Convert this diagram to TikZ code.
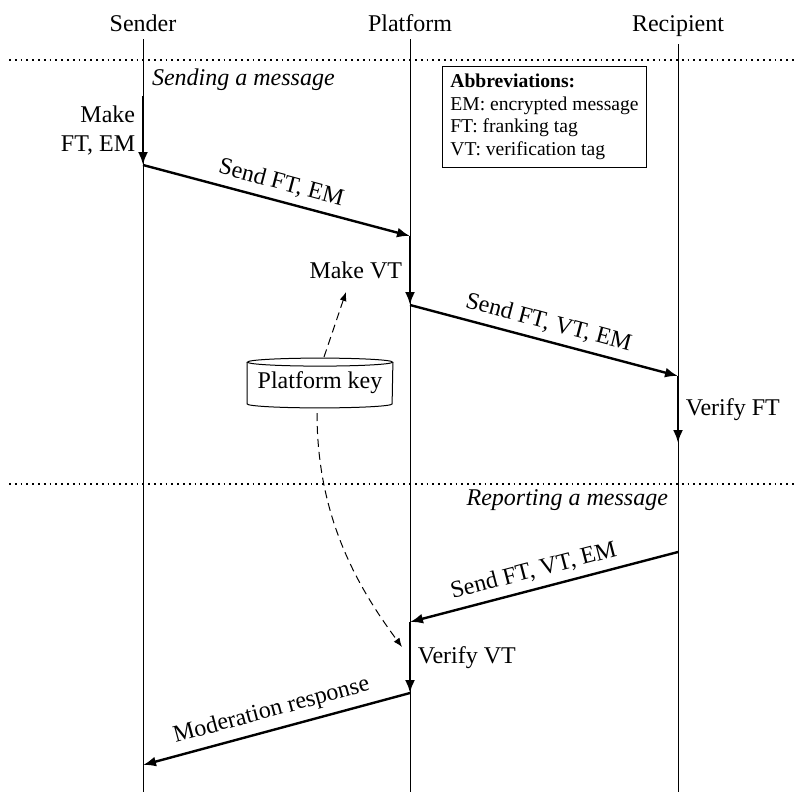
\documentclass[tikz,border=0pt]{standalone}
\usepackage{fontspec}
\setmainfont{Liberation Serif}
\usetikzlibrary{arrows.meta}
\begin{document}
\begin{tikzpicture}[x=0.5pt,y=-0.5pt,
  font=\fontsize{12}{14.5}\selectfont,
  actor/.style={anchor=base},
  lifeline/.style={line width=0.5pt},
  sep/.style={line width=0.6pt, dash pattern=on 0.9pt off 2pt},
  proc/.style={line width=1.2pt, -{Latex[length=6.5pt,width=5pt]}},
  msg/.style={line width=1.2pt, -{Latex[length=6.5pt,width=5pt]}},
  keyarrow/.style={line width=0.5pt, dash pattern=on 4pt off 2.5pt, -{Latex[length=4.5pt,width=3.5pt]}},
  section/.style={font=\fontsize{12}{14.5}\selectfont\itshape},
  abbr/.style={draw, line width=0.5pt, align=left, inner sep=3.5pt, font=\fontsize{9.8}{11.3}\selectfont},
]
\useasboundingbox (0,0) rectangle (796,792);

% actors
\node[actor] (sender) at (143,32) {Sender};
\node[actor] (platform) at (410,32) {Platform};
\node[actor] (recipient) at (678,32) {Recipient};
\coordinate (sbot) at (143,792);
\coordinate (pbot) at (410,792);
\coordinate (rbot) at (678,792);
\draw[lifeline] (sender.south) -- (sbot);
\draw[lifeline] (platform.south) -- (pbot);
\draw[lifeline] (recipient.south) -- (rbot);

% separators
\coordinate (d1l) at (9,60); \coordinate (d1r) at (796,60);
\coordinate (d2l) at (9,484); \coordinate (d2r) at (796,484);
\draw[sep] (d1l) -- (d1r);
\draw[sep] (d2l) -- (d2r);

\node[section, anchor=base west] (sec1) at (145,86) {Sending a message};
\node[section, anchor=base east] (sec2) at (675,505) {Reporting a message};

% abbreviations
\node[abbr, anchor=north west, minimum width=102pt, minimum height=50.5pt] (abbr) at (442,66)
  {\textbf{Abbreviations:}\\EM: encrypted message\\FT: franking tag\\VT: verification tag};

% points
\coordinate (s0) at (143,96);
\coordinate (s1) at (143,165);
\coordinate (p1) at (410,236);
\coordinate (p2) at (410,305);
\coordinate (r1) at (678,376);
\coordinate (r2) at (678,443);
\coordinate (r3) at (678,552);
\coordinate (p3) at (410,622);
\coordinate (p4) at (410,693);
\coordinate (s2) at (143,765);

\draw[proc] (s0) -- (s1) node[midway, left, align=right] (mkft) {Make\\FT, EM};
\draw[msg] (s1) -- (p1) node[midway, sloped, above] (m1) {Send FT, EM};
\draw[proc] (p1) -- (p2) node[midway, left] (mkvt) {Make VT};
\draw[msg] (p2) -- (r1) node[midway, sloped, above] (m2) {Send FT, VT, EM};
\draw[proc] (r1) -- (r2) node[midway, right] (vft) {Verify FT};
\draw[msg] (r3) -- (p3) node[midway, sloped, above, xshift=-3pt] (m3) {Send FT, VT, EM};
\draw[proc] (p3) -- (p4) node[midway, right] (vvt) {Verify VT};
\draw[msg] (p4) -- (s2) node[midway, sloped, above] (m4) {Moderation response};

% platform key cylinder
\node[minimum width=72.5pt, minimum height=20.5pt, inner sep=0pt] (key) at (320,383) {Platform key};
\draw[line width=0.5pt] (key.north) ellipse[x radius=36.25pt, y radius=2pt];
\draw[line width=0.5pt] (key.north west) -- (key.south west)
  arc[start angle=180, end angle=360, x radius=36.25pt, y radius=2pt] -- (key.north east);

\coordinate (ktop) at (324,357);
\coordinate (kend) at (346,292);
\coordinate (kbot) at (317,413);
\coordinate (vtin) at (402,647);
\draw[keyarrow] (ktop) -- (kend);
\draw[keyarrow] (kbot) .. controls (317,520) and (360,590) .. (vtin);
\end{tikzpicture}
\end{document}
